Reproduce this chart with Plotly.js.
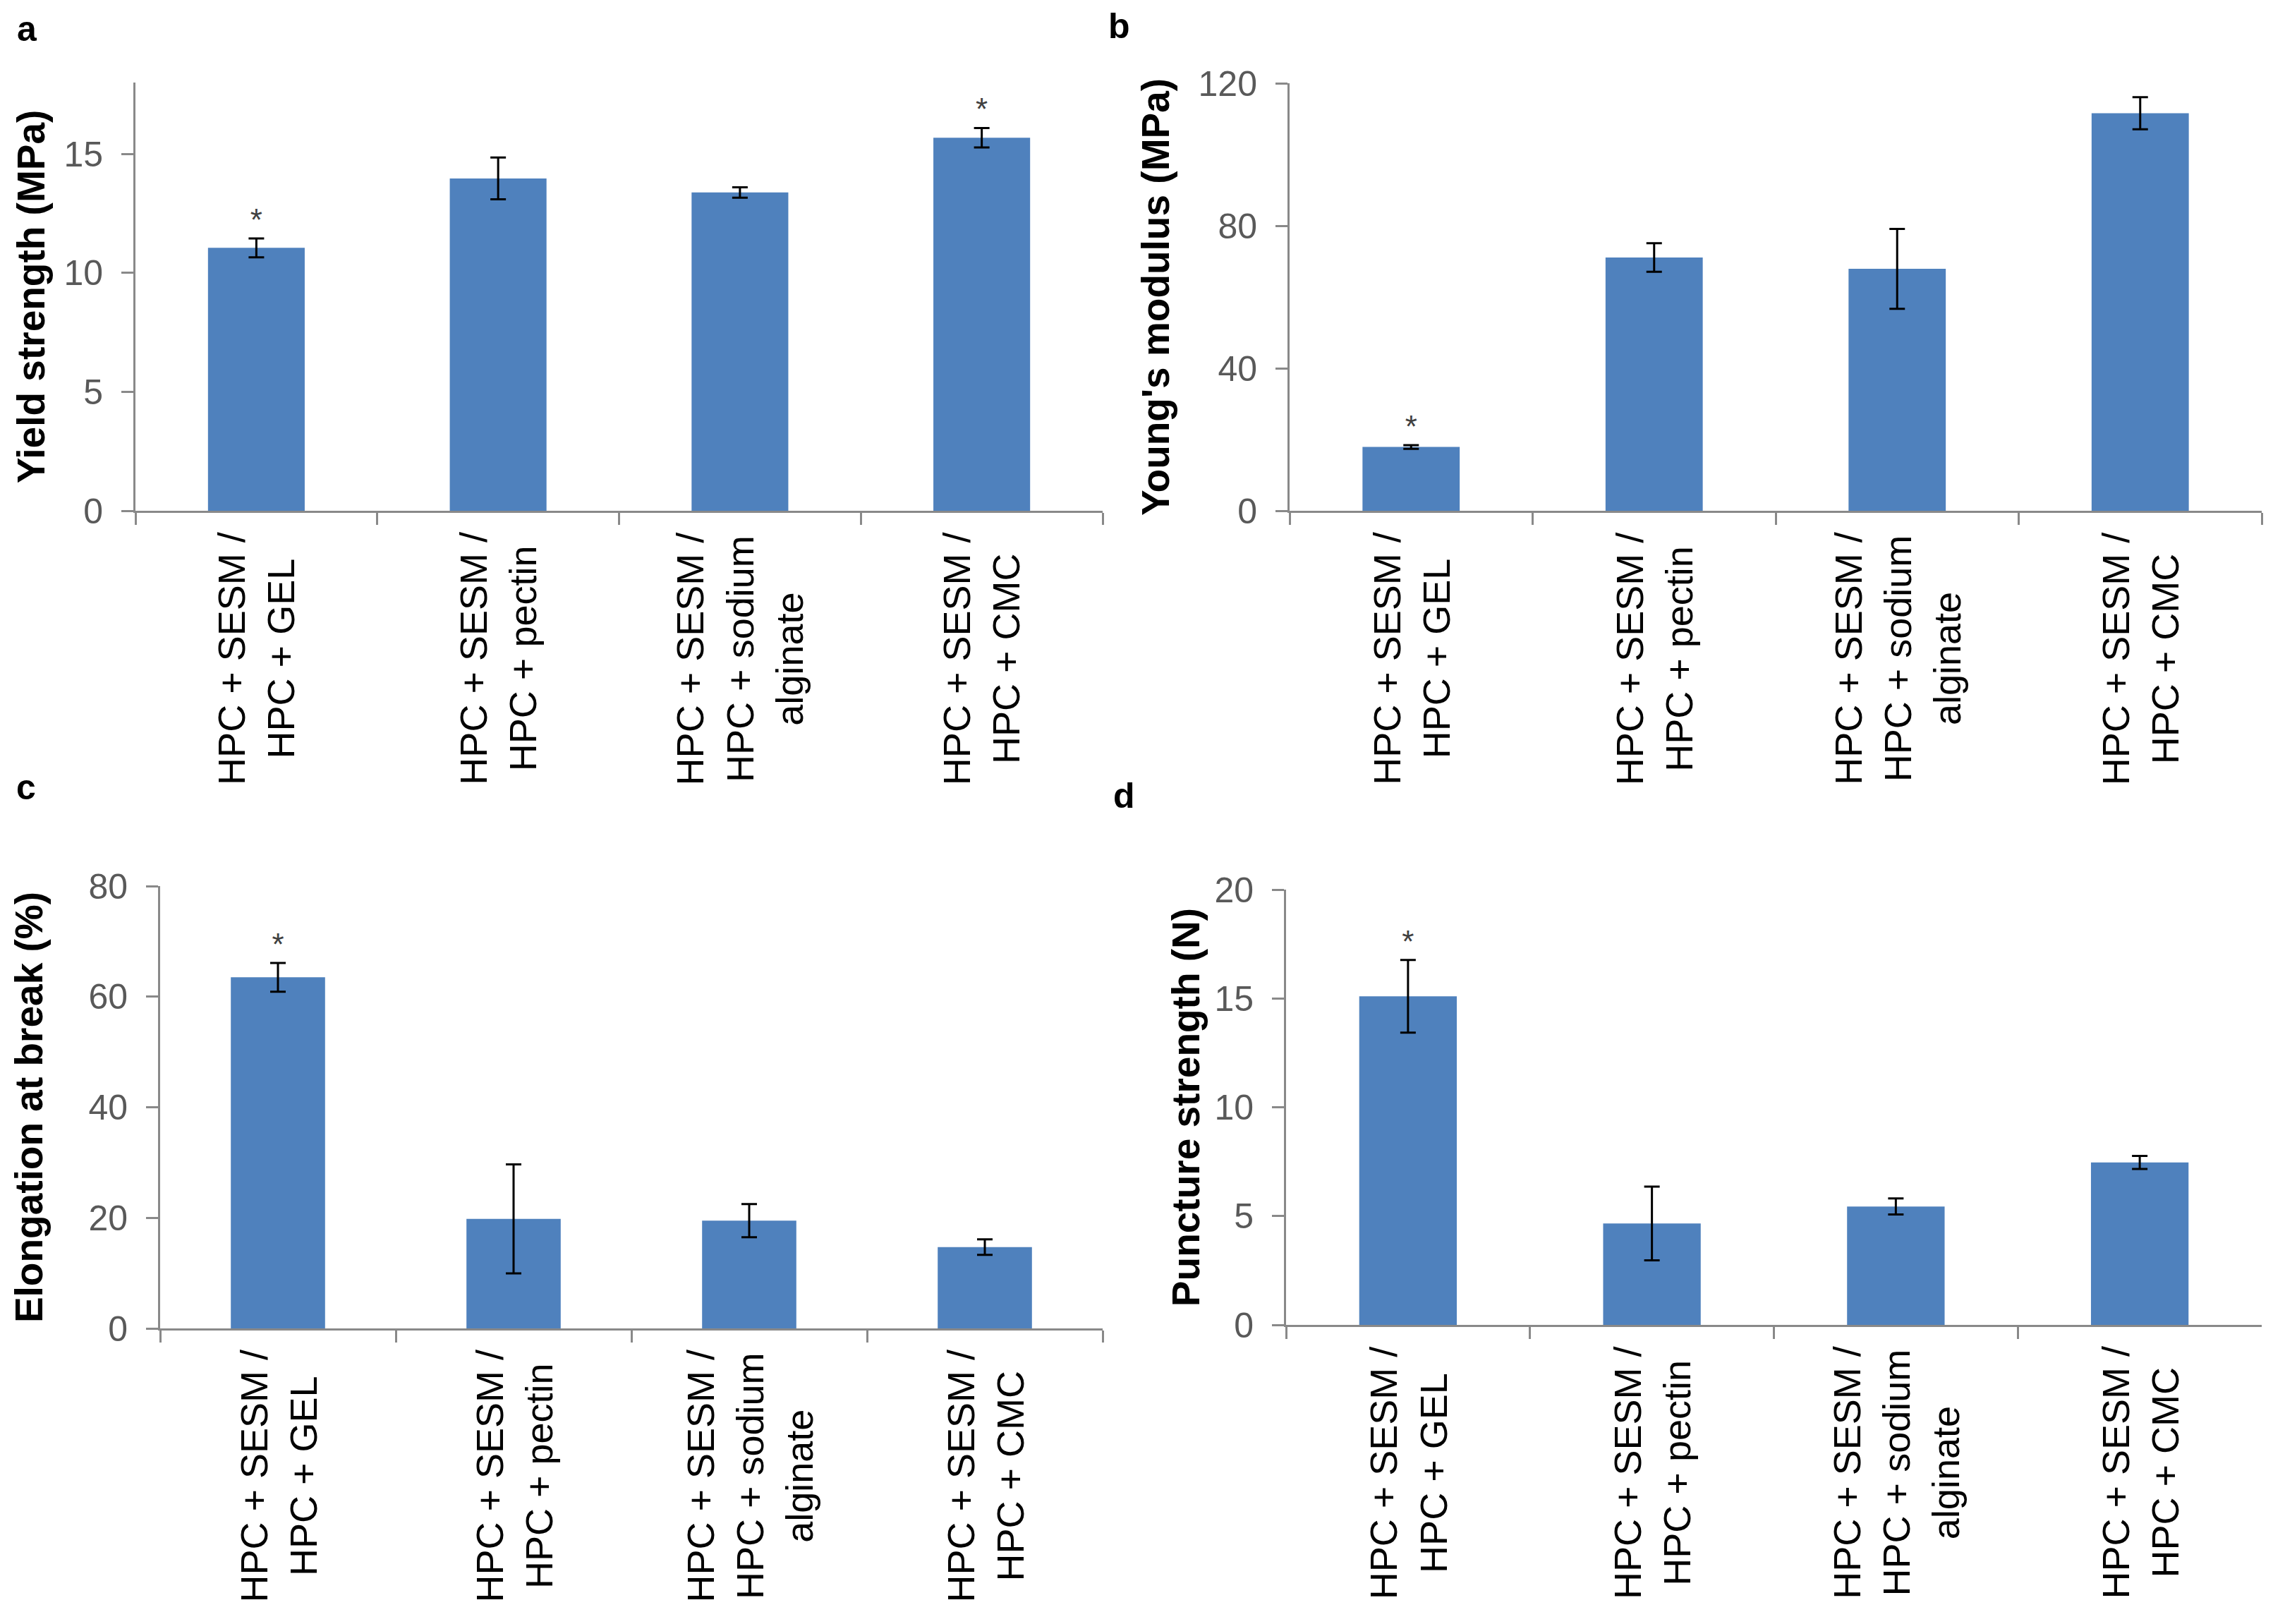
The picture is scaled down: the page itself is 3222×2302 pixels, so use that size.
<!DOCTYPE html>
<html>
<head>
<meta charset="utf-8">
<script src="https://cdn.plot.ly/plotly-3.0.1.min.js"></script>
<style>html,body{margin:0;padding:0;background:#fff;}#chart{width:3222px;height:2302px;}</style>
</head>
<body>
<div id="chart"></div>
<script>
// ---- data ----
const categories = ['GEL', 'pectin', 'sodium alginate', 'CMC'];
const categoryLabels = [
  'HPC + SESM /<br>HPC + GEL',
  'HPC + SESM /<br>HPC + pectin',
  'HPC + SESM /<br>HPC + sodium<br>alginate',
  'HPC + SESM /<br>HPC + CMC'
];

const yieldStrength = [11.05, 13.97, 13.38, 15.68];
const yieldStrengthErr = [0.40, 0.88, 0.22, 0.41];
const yieldStrengthSig = [true, false, false, true];

const youngsModulus = [17.9, 71.1, 67.9, 111.6];
const youngsModulusErr = [0.5, 4.0, 11.2, 4.5];
const youngsModulusSig = [true, false, false, false];

const elongation = [63.5, 19.8, 19.5, 14.7];
const elongationErr = [2.6, 9.85, 3.0, 1.4];
const elongationSig = [true, false, false, false];

const puncture = [15.1, 4.66, 5.44, 7.46];
const punctureErr = [1.67, 1.69, 0.37, 0.30];
const punctureSig = [true, false, false, false];

const panelLetters = ['a', 'b', 'c', 'd'];
const yTitles = ['Yield strength (MPa)', "Young's modulus (MPa)", 'Elongation at break (%)', 'Puncture strength (N)'];
const yRanges = [[0, 18], [0, 120], [0, 80], [0, 20]];
const yDticks = [5, 40, 20, 5];

// ---- layout geometry (styling only) ----
const W = 3222, H = 2302;
const panels = [
  {vals: yieldStrength, err: yieldStrengthErr, sig: yieldStrengthSig, x0: 192, x1: 1563, yTop: 117, yZero: 724, standoff: 10, letter: [38, 41]},
  {vals: youngsModulus, err: youngsModulusErr, sig: youngsModulusSig, x0: 1828, x1: 3206, yTop: 118, yZero: 724, standoff: 24, letter: [1586, 37]},
  {vals: elongation, err: elongationErr, sig: elongationSig, x0: 227, x1: 1563, yTop: 1256, yZero: 1883, standoff: 48, letter: [37, 1116]},
  {vals: puncture, err: punctureErr, sig: punctureSig, x0: 1823, x1: 3206, yTop: 1261, yZero: 1878, standoff: 4, letter: [1593, 1128]}
];

const FONT = 'Liberation Sans, Arial, Helvetica, sans-serif';
const BAR = '#4F81BD';
const AXIS = '#898989';

const data = [];
const layout = {
  width: W, height: H,
  margin: {l: 0, r: 0, t: 0, b: 0},
  paper_bgcolor: '#ffffff', plot_bgcolor: '#ffffff',
  showlegend: false,
  bargap: 0.6,
  font: {family: FONT, color: '#000'},
  annotations: []
};

panels.forEach((p, i) => {
  const n = i + 1;
  const xa = 'x' + (n === 1 ? '' : n), ya = 'y' + (n === 1 ? '' : n);
  const xk = 'xaxis' + (n === 1 ? '' : n), yk = 'yaxis' + (n === 1 ? '' : n);

  data.push({
    type: 'bar', x: categories, y: p.vals, xaxis: xa, yaxis: ya,
    marker: {color: BAR, line: {width: 0}},
    error_y: {type: 'data', array: p.err, visible: true, color: '#000', thickness: 3, width: 11},
    hoverinfo: 'x+y'
  });

  const sx = [], sy = [];
  categories.forEach((c, j) => { if (p.sig[j]) { sx.push(c); sy.push(p.vals[j] + p.err[j]); } });
  data.push({
    type: 'scatter', mode: 'text', x: sx, y: sy, text: sx.map(() => '*'),
    textposition: 'top center', xaxis: xa, yaxis: ya, cliponaxis: false,
    textfont: {family: FONT, size: 44, color: '#404040'}, hoverinfo: 'skip'
  });

  layout[xk] = {
    domain: [p.x0 / W, p.x1 / W],
    anchor: ya, type: 'category', range: [-0.5, 3.5],
    showline: true, linecolor: AXIS, linewidth: 3,
    ticks: 'outside', tickson: 'boundaries', ticklen: 17, tickwidth: 3, tickcolor: AXIS,
    showticklabels: false, showgrid: false, zeroline: false, fixedrange: true
  };
  layout[yk] = {
    domain: [1 - p.yZero / H, 1 - p.yTop / H],
    anchor: xa, range: yRanges[i], dtick: yDticks[i], tick0: 0,
    showline: true, linecolor: AXIS, linewidth: 3,
    ticks: 'outside', ticklen: 17, tickwidth: 3, tickcolor: AXIS,
    ticklabelstandoff: 16,
    tickfont: {family: FONT, size: 50, color: '#595959'},
    showgrid: false, zeroline: false, fixedrange: true,
    title: {text: yTitles[i], standoff: p.standoff, font: {family: FONT, size: 55, color: '#000', weight: 'bold'}}
  };

  categories.forEach((c, j) => {
    layout.annotations.push({
      xref: xa, yref: ya, x: c, y: 0, xanchor: 'center', yanchor: 'top', yshift: -28,
      textangle: -90, align: 'center', showarrow: false,
      text: categoryLabels[j],
      font: {family: FONT, size: 54, color: '#000'}
    });
  });

  layout.annotations.push({
    xref: 'paper', yref: 'paper', x: p.letter[0] / W, y: 1 - p.letter[1] / H,
    xanchor: 'center', yanchor: 'middle', showarrow: false,
    text: '<b>' + panelLetters[i] + '</b>',
    font: {family: FONT, size: 50, color: '#000'}
  });
});

Plotly.newPlot('chart', data, layout, {staticPlot: true, displayModeBar: false});
</script>
</body>
</html>
